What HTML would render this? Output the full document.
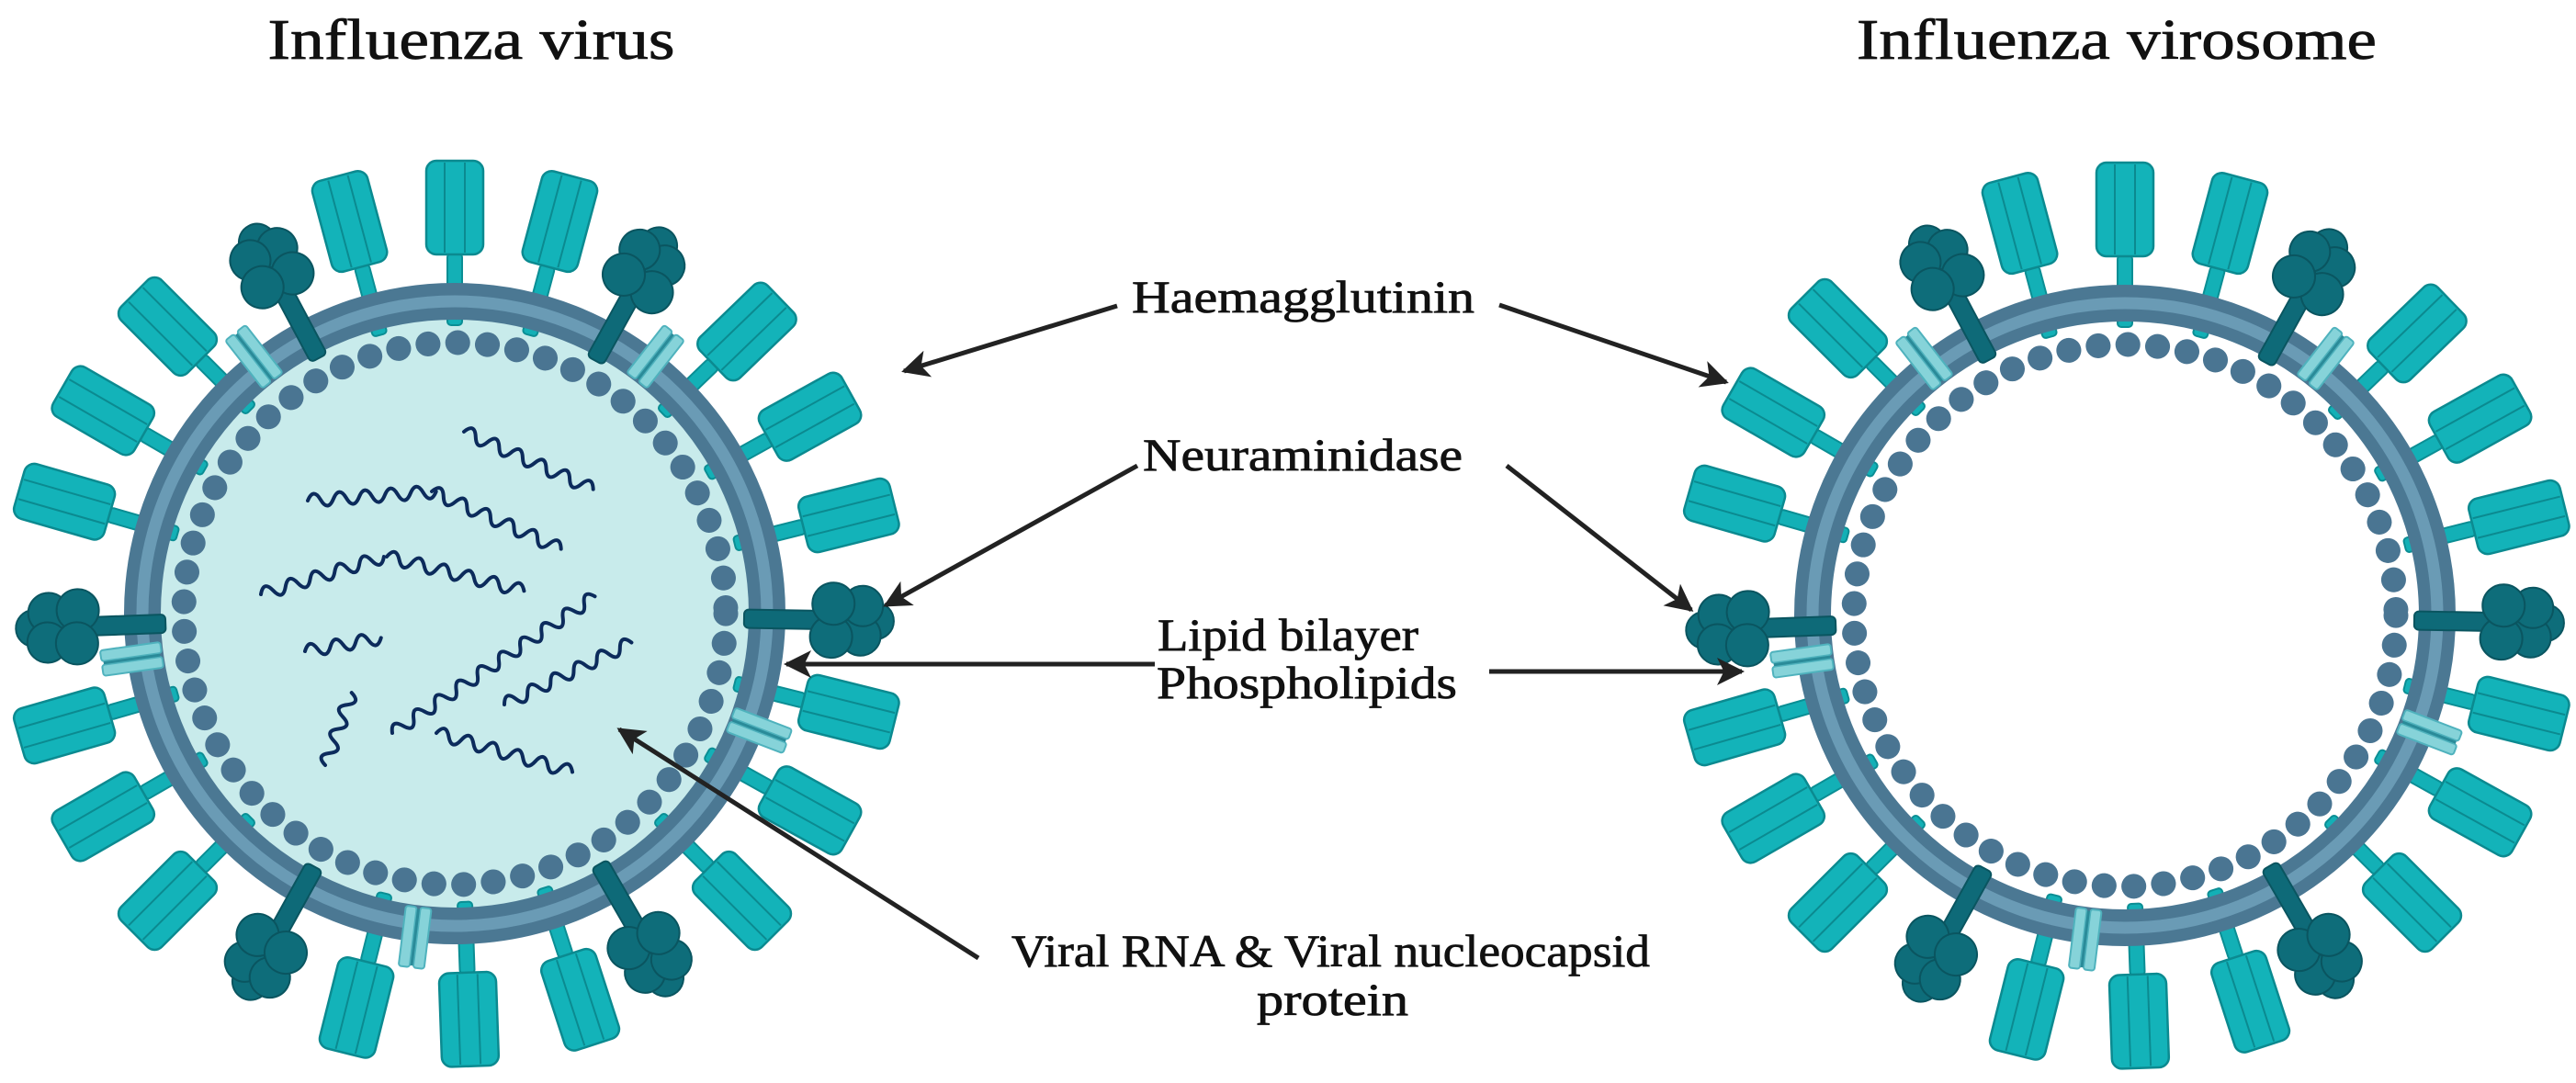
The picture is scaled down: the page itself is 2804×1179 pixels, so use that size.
<!DOCTYPE html>
<html><head><meta charset="utf-8"><style>
html,body{margin:0;padding:0;background:#fff;}
svg{display:block;}
text{font-family:"Liberation Serif",serif;fill:#111;stroke:#111;stroke-width:0.8;}
</style></head><body>
<svg width="2804" height="1179" viewBox="0 0 2804 1179" xmlns="http://www.w3.org/2000/svg">
<defs>
<g id="ha">
<rect x="-8" y="-392" width="16" height="78" rx="4" fill="#13b0b6" stroke="#0b8e94" stroke-width="2"/>
<rect x="-31" y="-493" width="62" height="102" rx="11" fill="#13b3b9" stroke="#0b8a90" stroke-width="2.5"/>
<line x1="-11" y1="-491" x2="-11" y2="-393" stroke="#0b8a90" stroke-width="2"/>
<line x1="11" y1="-491" x2="11" y2="-393" stroke="#0b8a90" stroke-width="2"/>
</g>
<g id="na">
<rect x="-10" y="-405" width="20" height="90" rx="5" fill="#0e6a78" stroke="#0a5560" stroke-width="2"/>
<g fill="#0e6d7a" stroke="#0a5560" stroke-width="2">
<circle cx="0" cy="-458" r="20"/>
<circle cx="16" cy="-442" r="22"/>
<circle cx="-16" cy="-444" r="22"/>
<circle cx="18" cy="-410" r="23"/>
<circle cx="-18" cy="-412" r="23"/>
</g>
</g>
<g id="pl">
<rect x="-14" y="-388" width="12" height="66" rx="3" fill="#86d3d9" stroke="#4fb2bd" stroke-width="2"/>
<rect x="2" y="-388" width="12" height="66" rx="3" fill="#86d3d9" stroke="#4fb2bd" stroke-width="2"/>
<line x1="0" y1="-386" x2="0" y2="-324" stroke="#2a8b99" stroke-width="3"/>
</g>
<marker id="ah" viewBox="0 0 10 10" refX="9" refY="5" markerWidth="6" markerHeight="6" orient="auto" markerUnits="strokeWidth">
<path d="M0 0 L10 5 L0 10 L2.5 5 z" fill="#222"/>
</marker>
</defs>

<!-- Titles -->
<text x="513" y="64" font-size="62" text-anchor="middle" textLength="443" lengthAdjust="spacingAndGlyphs">Influenza virus</text>
<text x="2304" y="64" font-size="62" text-anchor="middle" textLength="566" lengthAdjust="spacingAndGlyphs">Influenza virosome</text>

<!-- LEFT VIRUS -->
<g transform="translate(495,668)">
<circle r="322" fill="#c8ebeb"/>
<g id="spikesL">
<use href="#ha" transform="rotate(0)"/><use href="#ha" transform="rotate(15)"/><use href="#ha" transform="rotate(-15)"/>
<use href="#ha" transform="rotate(46)"/><use href="#ha" transform="rotate(61)"/><use href="#ha" transform="rotate(76)"/>
<use href="#ha" transform="rotate(104)"/><use href="#ha" transform="rotate(119)"/><use href="#ha" transform="rotate(135)"/>
<use href="#ha" transform="rotate(162)"/><use href="#ha" transform="rotate(178)"/><use href="#ha" transform="rotate(194)"/>
<use href="#ha" transform="rotate(225)"/><use href="#ha" transform="rotate(240)"/><use href="#ha" transform="rotate(254)"/>
<use href="#ha" transform="rotate(286)"/><use href="#ha" transform="rotate(300)"/><use href="#ha" transform="rotate(315)"/>
</g>
<circle r="340" fill="none" stroke="#4b7893" stroke-width="40"/>
<circle r="340" fill="none" stroke="#6a9bb5" stroke-width="13"/>
<g>
<use href="#na" transform="rotate(29)"/><use href="#na" transform="rotate(91)"/><use href="#na" transform="rotate(150)"/>
<use href="#na" transform="rotate(209)"/><use href="#na" transform="rotate(268)"/><use href="#na" transform="rotate(332)"/>
<use href="#pl" transform="rotate(38)"/><use href="#pl" transform="rotate(111)"/><use href="#pl" transform="rotate(187)"/>
<use href="#pl" transform="rotate(262)"/><use href="#pl" transform="rotate(322)"/>
</g>
<circle r="295" fill="none" stroke="#4a7592" stroke-width="27" stroke-linecap="round" stroke-dasharray="0.1 32.3"/>
<g fill="none" stroke="#0c2b5c" stroke-width="4" stroke-linecap="round" transform="translate(-495,-668)">
<path transform="translate(335,545) rotate(-4)" d="M0 0 q7 -14 14 0 t14 0 t14 0 t14 0 t14 0 t14 0 t14 0 t14 0 t14 0 t14 0"/>
<path transform="translate(470,535) rotate(24)" d="M0 0 q7 -14 14 0 t14 0 t14 0 t14 0 t14 0 t14 0 t14 0 t14 0 t14 0 t14 0 t14 0"/>
<path transform="translate(505,470) rotate(24)" d="M0 0 q7 -14 14 0 t14 0 t14 0 t14 0 t14 0 t14 0 t14 0 t14 0 t14 0 t14 0 t14 0"/>
<path transform="translate(284,647) rotate(-17)" d="M0 0 q7 -14 14 0 t14 0 t14 0 t14 0 t14 0 t14 0 t14 0 t14 0 t14 0 t14 0"/>
<path transform="translate(421,606) rotate(14)" d="M0 0 q7 -14 14 0 t14 0 t14 0 t14 0 t14 0 t14 0 t14 0 t14 0 t14 0 t14 0 t14 0"/>
<path transform="translate(332,709) rotate(-10)" d="M0 0 q7 -14 14 0 t14 0 t14 0 t14 0 t14 0 t14 0"/>
<path transform="translate(354,833) rotate(-70)" d="M0 0 q7 -14 14 0 t14 0 t14 0 t14 0 t14 0 t14 0"/>
<path transform="translate(427,798) rotate(-34)" d="M0 0 q7 -14 14 0 t14 0 t14 0 t14 0 t14 0 t14 0 t14 0 t14 0 t14 0 t14 0 t14 0 t14 0 t14 0 t14 0 t14 0 t14 0 t14 0 t14 0 t14 0"/>
<path transform="translate(549,767) rotate(-26)" d="M0 0 q7 -14 14 0 t14 0 t14 0 t14 0 t14 0 t14 0 t14 0 t14 0 t14 0 t14 0 t14 0"/>
<path transform="translate(475,798) rotate(16)" d="M0 0 q7 -14 14 0 t14 0 t14 0 t14 0 t14 0 t14 0 t14 0 t14 0 t14 0 t14 0 t14 0"/>
</g>
</g>

<!-- RIGHT VIROSOME -->
<g transform="translate(2313,670)">
<use href="#spikesL"/>
<circle r="340" fill="none" stroke="#4b7893" stroke-width="40"/>
<circle r="340" fill="none" stroke="#6a9bb5" stroke-width="13"/>
<g>
<use href="#na" transform="rotate(29)"/><use href="#na" transform="rotate(91)"/><use href="#na" transform="rotate(150)"/>
<use href="#na" transform="rotate(209)"/><use href="#na" transform="rotate(268)"/><use href="#na" transform="rotate(332)"/>
<use href="#pl" transform="rotate(38)"/><use href="#pl" transform="rotate(111)"/><use href="#pl" transform="rotate(187)"/>
<use href="#pl" transform="rotate(262)"/><use href="#pl" transform="rotate(322)"/>
</g>
<circle r="295" fill="none" stroke="#4a7592" stroke-width="27" stroke-linecap="round" stroke-dasharray="0.1 32.3"/>
</g>

<!-- Labels -->
<text x="1232" y="340" font-size="50" textLength="373" lengthAdjust="spacingAndGlyphs">Haemagglutinin</text>
<text x="1244" y="512" font-size="50" textLength="348" lengthAdjust="spacingAndGlyphs">Neuraminidase</text>
<text x="1260" y="708" font-size="50" textLength="284" lengthAdjust="spacingAndGlyphs">Lipid bilayer</text>
<text x="1259" y="760" font-size="50" textLength="327" lengthAdjust="spacingAndGlyphs">Phospholipids</text>
<text x="1101" y="1052" font-size="50" textLength="695" lengthAdjust="spacingAndGlyphs">Viral RNA &amp; Viral nucleocapsid</text>
<text x="1368" y="1105" font-size="50" textLength="165" lengthAdjust="spacingAndGlyphs">protein</text>

<!-- Arrows -->
<g stroke="#222" stroke-width="5" fill="none" marker-end="url(#ah)">
<line x1="1216" y1="333" x2="984" y2="404"/>
<line x1="1632" y1="332" x2="1879" y2="416"/>
<line x1="1238" y1="507" x2="964" y2="659"/>
<line x1="1640" y1="507" x2="1841" y2="664"/>
<line x1="1257" y1="723" x2="856" y2="723"/>
<line x1="1621" y1="731" x2="1896" y2="731"/>
<line x1="1065" y1="1043" x2="674" y2="794"/>
</g>
</svg>
</body></html>
